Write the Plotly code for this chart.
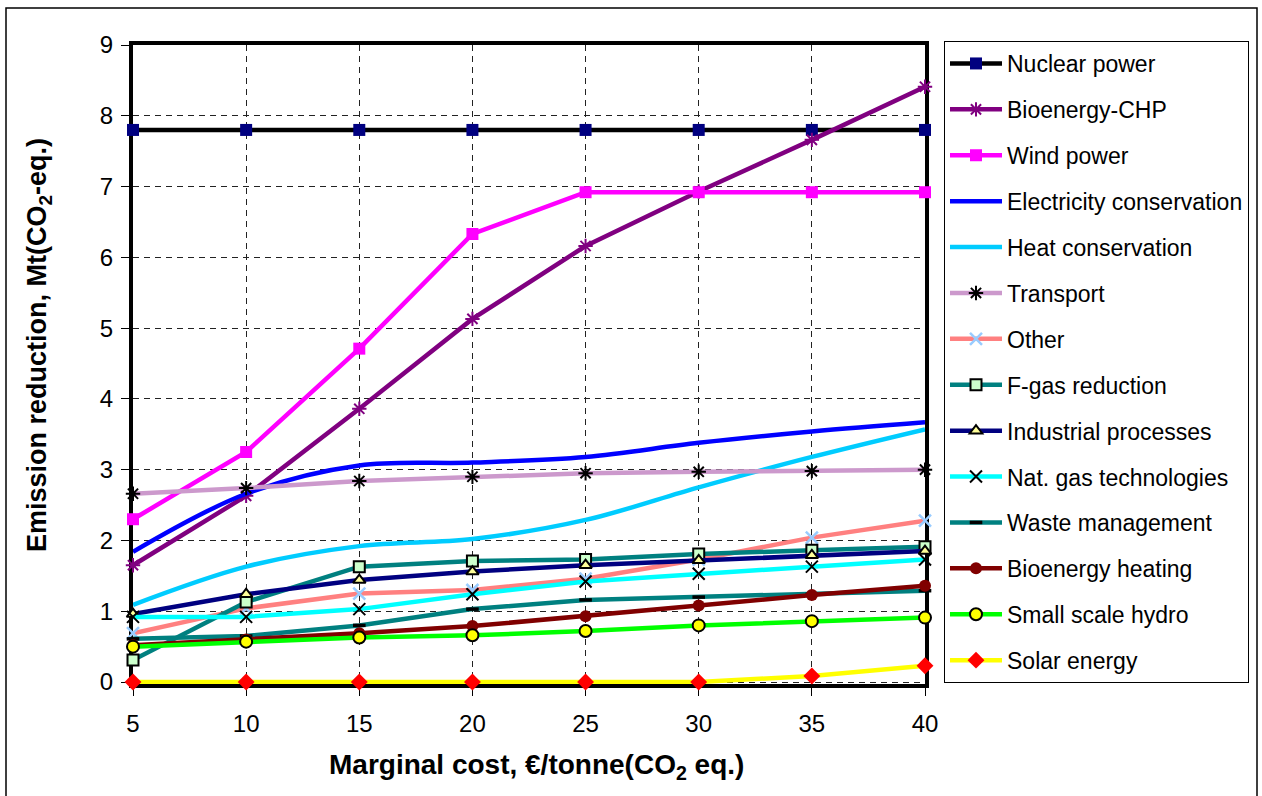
import plotly.graph_objects as go

# Marginal abatement cost levels (€/tonne CO2 eq.)
cost = [5, 10, 15, 20, 25, 30, 35, 40]

# Emission reduction per measure, Mt(CO2-eq.)
nuclear_power = [7.8, 7.8, 7.8, 7.8, 7.8, 7.8, 7.8, 7.8]
bioenergy_chp = [1.65, 2.63, 3.86, 5.13, 6.16, 6.93, 7.66, 8.41]
wind_power = [2.30, 3.25, 4.71, 6.33, 6.92, 6.92, 6.92, 6.92]
electricity_conservation = [1.84, 2.66, 3.06, 3.10, 3.18, 3.38, 3.54, 3.67]
heat_conservation = [1.09, 1.63, 1.92, 2.02, 2.29, 2.75, 3.18, 3.57]
transport = [2.66, 2.74, 2.84, 2.90, 2.95, 2.97, 2.98, 3.00]
other = [0.69, 1.04, 1.25, 1.30, 1.46, 1.73, 2.04, 2.28]
f_gas_reduction = [0.31, 1.13, 1.63, 1.71, 1.73, 1.81, 1.86, 1.91]
industrial_processes = [0.96, 1.24, 1.44, 1.56, 1.65, 1.72, 1.79, 1.85]
nat_gas_technologies = [0.92, 0.92, 1.03, 1.24, 1.42, 1.53, 1.63, 1.73]
waste_management = [0.61, 0.65, 0.80, 1.03, 1.16, 1.20, 1.24, 1.29]
bioenergy_heating = [0.52, 0.60, 0.69, 0.79, 0.93, 1.08, 1.23, 1.36]
small_scale_hydro = [0.50, 0.57, 0.63, 0.66, 0.72, 0.80, 0.86, 0.91]
solar_energy = [0.0, 0.0, 0.0, 0.0, 0.0, 0.0, 0.085, 0.23]

y_ticks = [0, 1, 2, 3, 4, 5, 6, 7, 8, 9]

FONT = "Liberation Sans, Arial, sans-serif"

series = [
    # name, values, line colour, line shape, marker spec
    ("Nuclear power", nuclear_power, "#000000", "linear",
     dict(symbol="square", size=12, color="#000080", line=dict(width=0))),
    ("Bioenergy-CHP", bioenergy_chp, "#800080", "linear",
     dict(symbol="asterisk-open", size=12, color="#800080", line=dict(width=2, color="#800080"))),
    ("Wind power", wind_power, "#FF00FF", "linear",
     dict(symbol="square", size=12, color="#FF00FF", line=dict(width=0))),
    ("Electricity conservation", electricity_conservation, "#0000FF", "spline", None),
    ("Heat conservation", heat_conservation, "#00CCFF", "spline", None),
    ("Transport", transport, "#CC99CC", "linear",
     dict(symbol="asterisk-open", size=12, color="#000000", line=dict(width=2, color="#000000"))),
    ("Other", other, "#FF8080", "linear",
     dict(symbol="x-thin-open", size=12, color="#99CCFF", line=dict(width=2.5, color="#99CCFF"))),
    ("F-gas reduction", f_gas_reduction, "#008080", "linear",
     dict(symbol="square", size=11, color="#CCFFCC", line=dict(width=2, color="#000000"))),
    ("Industrial processes", industrial_processes, "#000080", "linear",
     dict(symbol="triangle-up", size=11, color="#FFFF99", line=dict(width=2, color="#000000"))),
    ("Nat. gas technologies", nat_gas_technologies, "#00FFFF", "linear",
     dict(symbol="x-thin-open", size=12, color="#000000", line=dict(width=2, color="#000000"))),
    ("Waste management", waste_management, "#008080", "linear",
     dict(symbol="line-ew-open", size=9, color="#000000", line=dict(width=3.5, color="#000000"))),
    ("Bioenergy heating", bioenergy_heating, "#800000", "linear",
     dict(symbol="circle", size=12, color="#800000", line=dict(width=0))),
    ("Small scale hydro", small_scale_hydro, "#00FF00", "linear",
     dict(symbol="circle", size=12, color="#FFFF00", line=dict(width=2, color="#000000"))),
    ("Solar energy", solar_energy, "#FFFF00", "linear",
     dict(symbol="diamond", size=13, color="#FF0000", line=dict(width=0))),
]

fig = go.Figure()
for i, (name, vals, color, shape, marker) in enumerate(series):
    kw = dict(
        x=cost, y=vals, name=name, legendgroup=f"g{i}",
        line=dict(color=color, width=4.5, shape=shape),
        cliponaxis=False,
    )
    if marker is None:
        kw["mode"] = "lines"
    else:
        kw["mode"] = "lines+markers"
        kw["marker"] = marker
    fig.add_trace(go.Scatter(**kw))

axis_common = dict(
    showline=True, linecolor="#000000", linewidth=4, mirror=True,
    showgrid=True, gridcolor="#222222", gridwidth=1, griddash="6px,5px",
    ticks="outside", ticklen=8, tickcolor="#000000", tickwidth=1,
    tickfont=dict(family=FONT, size=24, color="#000000"),
    zeroline=False, layer="below traces",
)

fig.update_xaxes(
    range=[5, 40], tickmode="array", tickvals=cost, ticktext=[str(c) for c in cost],
    ticklabelstandoff=7,
    **axis_common,
)
# small negative floor so the zero-level line is not clipped by the plot frame
fig.update_yaxes(
    range=[-0.028, 9], tickmode="array", tickvals=y_ticks, ticktext=[str(t) for t in y_ticks],
    ticklabelstandoff=3,
    **axis_common,
)

PLOT_L, PLOT_R, PLOT_T, PLOT_B = 133, 925, 45, 684
pw, ph = PLOT_R - PLOT_L, PLOT_B - PLOT_T


def px_x(px):
    return (px - PLOT_L) / pw


def px_y(py):
    return (PLOT_B - py) / ph


# Axis titles
fig.add_annotation(
    text="<b>Marginal cost, €/tonne(CO<sub>2</sub> eq.)</b>",
    xref="paper", yref="paper", x=px_x(536), y=px_y(766),
    xanchor="center", yanchor="middle", showarrow=False,
    font=dict(family=FONT, size=28, color="#000000"),
)
fig.add_annotation(
    text="<b>Emission reduction, Mt(CO<sub>2</sub>-eq.)</b>",
    xref="paper", yref="paper", x=px_x(39), y=px_y(345),
    xanchor="center", yanchor="middle", showarrow=False, textangle=-90,
    font=dict(family=FONT, size=27, color="#000000"),
)

# Outer chart frame
fig.add_shape(type="rect", xref="paper", yref="paper",
              x0=px_x(6), x1=px_x(1257), y0=px_y(820), y1=px_y(8),
              line=dict(color="#000000", width=1.5), layer="below")

fig.update_layout(
    width=1262, height=796,
    margin=dict(l=PLOT_L, r=1262 - PLOT_R, t=PLOT_T, b=796 - PLOT_B),
    paper_bgcolor="#FFFFFF", plot_bgcolor="#FFFFFF",
    font=dict(family=FONT, size=23, color="#000000"),
    showlegend=True,
    legend=dict(
        x=px_x(944), xanchor="left",
        y=px_y(41), yanchor="top",
        bordercolor="#000000", borderwidth=1, bgcolor="#FFFFFF",
        font=dict(family=FONT, size=23, color="#000000"),
        tracegroupgap=13, itemwidth=52, maxheight=760,
    ),
)

fig.write_html("out.html")
